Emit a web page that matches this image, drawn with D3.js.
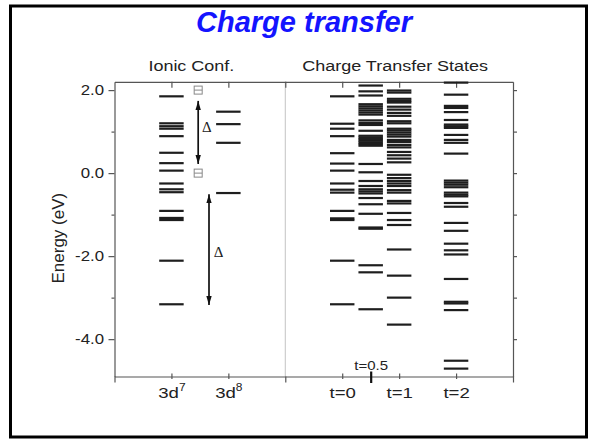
<!DOCTYPE html>
<html>
<head>
<meta charset="utf-8">
<script src="https://cdn.jsdelivr.net/npm/d3@7"></script>
<style>
  body { margin: 0; background: #fff; }
  svg { display: block; }
</style>
</head>
<body>
<svg id="chart" width="594" height="442"></svg>
<script>
// ---- data -------------------------------------------------------------
// energy levels (eV) of each column
const levels3d7 = [1.85, 1.20, 1.13, 1.07, 0.89, 0.49, 0.24, 0.06, -0.25, -0.39, -0.46,
  -0.91, -1.08, -1.13, -2.11, -3.16];
const levels3d8 = [1.48, 1.18, 0.73, -0.48];
const levelsT0 = [1.85, 1.19, 1.07, 0.89, 0.48, 0.23, 0.06, -0.25, -0.40, -0.47,
  -0.91, -1.09, -1.13, -2.11, -3.16];
const levelsT05 = [2.11, 1.97, 1.87, 1.66, 1.61, 1.56, 1.51, 1.46, 1.41, 1.27, 1.21, 1.16,
  1.02, 0.90, 0.86, 0.82, 0.78, 0.74, 0.70, 0.66, 0.22, 0.02, -0.19, -0.31, -0.39, -0.44,
  -0.49, -0.60, -0.75, -0.98, -1.31, -1.34, -2.22, -2.39, -3.28];
const levelsT1 = [1.99, 1.94, 1.79, 1.74, 1.70, 1.60, 1.53, 1.45, 1.38, 1.25, 1.20, 1.07,
  1.03, 0.98, 0.93, 0.88, 0.80, 0.75, 0.68, 0.62, 0.51, 0.43, 0.35, 0.26, -0.04, -0.12,
  -0.19, -0.25, -0.31, -0.41, -0.47, -0.67, -0.73, -0.96, -1.13, -1.25, -1.84, -2.47,
  -3.00, -3.65];
const levelsT2 = [2.18, 1.89, 1.62, 1.57, 1.47, 1.28, 1.17, 1.13, 1.09, 0.92, 0.80, 0.73,
  0.47, -0.18, -0.23, -0.28, -0.34, -0.47, -0.52, -0.56, -0.72, -0.81, -1.20, -1.39,
  -1.70, -1.86, -1.96, -2.55, -3.10, -3.14, -3.30, -4.52, -4.71];

// column positions on the x axis
const columnPos = [1, 2, 4, 4.5, 5, 6];
const columnLevels = [levels3d7, levels3d8, levelsT0, levelsT05, levelsT1, levelsT2];

// axis ticks and labels
const yTicks = [2, 1, 0, -1, -2, -3, -4];
const yTickLabels = ["2.0", "", "0.0", "", "-2.0", "", "-4.0"];
const xLabelPos = [1, 2, 4, 5, 6];
const xLabelBase = ["3d", "3d", "t=0", "t=1", "t=2"];
const xLabelSup = ["7", "8", "", "", ""];
const xEdgeTicks = [0, 3, 7];
const xTopTicks = [1, 2, 3, 4, 5, 6];
const midTickPos = 4.5;
const midTickLabel = "t=0.5";

// gap arrows (Δ) in the ionic panel
const arrowX = [1.47, 1.66];
const arrowFrom = [1.74, -0.51];
const arrowTo = [0.22, -3.18];
const deltaX = [1.62, 1.83];
const deltaE = [1.00, -2.03];
const boxX = [1.47, 1.47];
const boxE = [2.0, 0.0];

const chartTitle = "Charge transfer";
const panelTitles = ["Ionic Conf.", "Charge Transfer States"];
const panelTitleX = [1.35, 4.93];
const yAxisTitle = "Energy (eV)";

// ---- layout -----------------------------------------------------------
const svg = d3.select("#chart");
const SX = 1.2;                       // horizontal stretch of the chart lettering
const FONT = "'Liberation Sans', Arial, sans-serif";
const AXIS = "#555";
const TEXT = "#222";

const x = d3.scaleLinear().domain([0, 7]).range([114.5, 513]);
const y = d3.scaleLinear().domain([-4.9, 2.2]).range([376.5, 81.8]);
const halfW = 0.215;

// slide frame
svg.append("rect")
  .attr("x", 10.5).attr("y", 6).attr("width", 576).attr("height", 431)
  .attr("fill", "none").attr("stroke", "#000").attr("stroke-width", 3);

// slide title
svg.append("text")
  .attr("x", 304).attr("y", 32)
  .attr("text-anchor", "middle")
  .attr("font-family", FONT).attr("font-size", 29)
  .attr("font-weight", "bold").attr("font-style", "italic")
  .attr("fill", "#1414ff")
  .text(chartTitle);

// panel titles
panelTitles.forEach((t, i) => {
  svg.append("text")
    .attr("transform", `translate(${x(panelTitleX[i])},71) scale(${SX},1)`)
    .attr("text-anchor", "middle")
    .attr("font-family", FONT).attr("font-size", 15).attr("fill", TEXT)
    .text(t);
});

// y axis title
svg.append("text")
  .attr("transform", `translate(64,${(y(2.2) + y(-4.9)) / 2 + 9}) rotate(-90)`)
  .attr("text-anchor", "middle")
  .attr("font-family", FONT).attr("font-size", 17).attr("fill", TEXT)
  .text(yAxisTitle);

// panel separator
svg.append("line")
  .attr("x1", x(3)).attr("x2", x(3))
  .attr("y1", y(2.2)).attr("y2", y(-4.9))
  .attr("stroke", "#c4c4c4").attr("stroke-width", 1);

function styleAxis(g) {
  g.attr("font-family", FONT).attr("font-size", 14);
  g.select(".domain").attr("stroke", AXIS).attr("stroke-width", 1.2);
  g.selectAll(".tick line").attr("stroke", AXIS).attr("stroke-width", 1.2);
  g.selectAll(".tick text").attr("fill", TEXT);
}

// left axis
const gLeft = svg.append("g")
  .attr("transform", `translate(${x(0)},0)`)
  .call(d3.axisLeft(y).tickValues(yTicks).tickSize(6).tickSizeOuter(0).tickPadding(4)
    .tickFormat(d => yTickLabels[yTicks.indexOf(d)]));
styleAxis(gLeft);
gLeft.selectAll(".tick line").filter(d => d % 2 !== 0).attr("x2", -3);
gLeft.selectAll(".tick text")
  .attr("x", -10.5 / SX)
  .attr("transform", `scale(${SX},1)`);

// right axis
const gRight = svg.append("g")
  .attr("transform", `translate(${x(7)},0)`)
  .call(d3.axisRight(y).tickValues(yTicks).tickSize(4).tickSizeOuter(0).tickFormat(""));
styleAxis(gRight);

// top axis, ticks pointing inward
const gTop = svg.append("g")
  .attr("transform", `translate(0,${y(2.2)})`)
  .call(d3.axisTop(x).tickValues(xTopTicks).tickSize(-6).tickSizeOuter(0).tickFormat(""));
styleAxis(gTop);

// bottom axis: outward ticks at the panel edges
const gBottom = svg.append("g")
  .attr("transform", `translate(0,${y(-4.9)})`)
  .call(d3.axisBottom(x).tickValues(xEdgeTicks).tickSize(6).tickSizeOuter(0).tickFormat(""));
styleAxis(gBottom);

// bottom axis: category ticks with labels
const gCat = svg.append("g")
  .attr("transform", `translate(0,${y(-4.9)})`)
  .call(d3.axisBottom(x).tickValues(xLabelPos).tickSize(3).tickFormat(""));
gCat.select(".domain").remove();
styleAxis(gCat);
gCat.selectAll(".tick line").attr("y1", -3).attr("y2", 2.5);
gCat.selectAll(".tick text").remove();
gCat.selectAll(".tick").each(function (d) {
  const i = xLabelPos.indexOf(d);
  const t = d3.select(this).append("text")
    .attr("y", 21.5)
    .attr("transform", `scale(${SX},1)`)
    .attr("text-anchor", "middle")
    .attr("font-family", FONT).attr("font-size", 15.5).attr("fill", TEXT);
  t.append("tspan").text(xLabelBase[i]);
  if (xLabelSup[i]) {
    t.append("tspan").attr("dy", -7).attr("font-size", 10).text(xLabelSup[i]);
  }
});

// bottom axis: t=0.5 marker
const gMid = svg.append("g")
  .attr("transform", `translate(0,${y(-4.9)})`)
  .call(d3.axisBottom(x).tickValues([midTickPos]).tickSize(6).tickFormat(""));
gMid.select(".domain").remove();
gMid.selectAll(".tick line")
  .attr("y1", -5).attr("y2", 6.5)
  .attr("stroke", "#111").attr("stroke-width", 2.2);
gMid.selectAll(".tick text").remove();
gMid.selectAll(".tick").append("text")
  .attr("y", -6.5)
  .attr("transform", `scale(${SX},1)`)
  .attr("text-anchor", "middle")
  .attr("font-family", FONT).attr("font-size", 12.5).attr("fill", TEXT)
  .text(midTickLabel);

// energy levels
const gLevels = svg.append("g");
columnLevels.forEach((vals, ci) => {
  gLevels.selectAll(null)
    .data(vals)
    .enter().append("line")
    .attr("x1", x(columnPos[ci] - halfW))
    .attr("x2", x(columnPos[ci] + halfW))
    .attr("y1", d => y(d))
    .attr("y2", d => y(d))
    .attr("stroke", "#1e1e1e")
    .attr("stroke-width", 2.2);
});

// arrowheads
const defs = svg.append("defs");
defs.append("marker")
  .attr("id", "head")
  .attr("viewBox", "0 0 10 6")
  .attr("refX", 10).attr("refY", 3)
  .attr("markerWidth", 9).attr("markerHeight", 5.4)
  .attr("markerUnits", "userSpaceOnUse")
  .attr("orient", "auto-start-reverse")
  .append("path").attr("d", "M0,0 L10,3 L0,6 Z").attr("fill", "#111");

// Δ gap arrows
arrowX.forEach((ax, i) => {
  svg.append("line")
    .attr("x1", x(ax)).attr("x2", x(ax))
    .attr("y1", y(arrowFrom[i])).attr("y2", y(arrowTo[i]))
    .attr("stroke", "#111").attr("stroke-width", 1.7)
    .attr("marker-start", "url(#head)")
    .attr("marker-end", "url(#head)");
});
deltaX.forEach((dx, i) => {
  svg.append("text")
    .attr("x", x(dx)).attr("y", y(deltaE[i]))
    .attr("text-anchor", "middle")
    .attr("font-family", "'Liberation Serif', 'Times New Roman', serif")
    .attr("font-size", 15).attr("fill", TEXT)
    .text("Δ");
});

// reference-level boxes
boxX.forEach((bx, i) => {
  const cx = x(bx), cy = y(boxE[i]);
  svg.append("rect")
    .attr("x", cx - 4).attr("y", cy - 4).attr("width", 8).attr("height", 8)
    .attr("fill", "#fff").attr("stroke", "#888").attr("stroke-width", 1);
  svg.append("line")
    .attr("x1", cx - 4).attr("x2", cx + 4).attr("y1", cy).attr("y2", cy)
    .attr("stroke", "#888").attr("stroke-width", 1);
});
</script>
</body>
</html>
